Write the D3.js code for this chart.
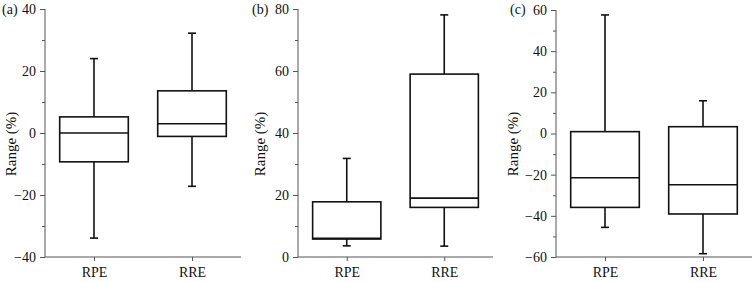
<!DOCTYPE html>
<html><head><meta charset="utf-8">
<script src="https://cdn.jsdelivr.net/npm/d3@7"></script>
<style>body{margin:0;background:#fff}svg{display:block}svg text{font-family:'Times New Roman','Liberation Serif',Times,serif !important}</style>
</head><body><svg id="c" width="753" height="282"></svg>
<script>
const categories = ["RPE", "RRE"];
const panelLabels = ["(a)", "(b)", "(c)"];
// box stats per panel: [whiskerLow, q1, median, q3, whiskerHigh]
const panelA = [[-33.9, -9.3, 0.0, 5.2, 24.0], [-17.2, -1.1, 3.0, 13.6, 32.2]];
const panelB = [[3.6, 5.8, 6.0, 17.8, 31.8], [3.5, 16.0, 19.0, 59.0, 78.1]];
const panelC = [[-45.6, -35.9, -21.5, 0.9, 57.6], [-58.4, -39.1, -24.9, 3.3, 15.9]];
const domains = [[-40, 40], [0, 80], [-60, 60]];
const majorTicks = [[-40, -20, 0, 20, 40], [0, 20, 40, 60, 80], [-60, -40, -20, 0, 20, 40, 60]];
const minorTicks = [[-30, -10, 10, 30], [10, 30, 50, 70], [-50, -30, -10, 10, 30, 50]];
const yTitle = "Range (%)";

const svg = d3.select("#c");
const panels = [
  {data: panelA, x0: 45, x1: 241, top: 9, lx: 2, tx: 11},
  {data: panelB, x0: 298, x1: 493, top: 9, lx: 252, tx: 260},
  {data: panelC, x0: 556, x1: 752, top: 10, lx: 510, tx: 513}
];
const bottom = 257;
const axisColor = "#555";

panels.forEach((p, i) => {
  const y = d3.scaleLinear().domain(domains[i]).range([bottom, p.top]);
  const x = d3.scalePoint().domain(categories).range([p.x0, p.x1]).padding(0.5);
  const bw = x.step() * 0.7;
  const g = svg.append("g");

  const ya = g.append("g").attr("transform", `translate(${p.x0},0)`)
    .call(d3.axisLeft(y).tickValues(majorTicks[i]).tickSize(5).tickPadding(4).tickFormat(d3.format("d")));
  g.append("g").attr("transform", `translate(${p.x0},0)`)
    .call(d3.axisLeft(y).tickValues(minorTicks[i]).tickSize(3).tickFormat(""))
    .call(s => s.select(".domain").remove());
  const xa = g.append("g").attr("transform", `translate(0,${bottom})`)
    .call(d3.axisBottom(x).tickSize(4).tickPadding(6).tickSizeOuter(0));
  xa.select(".domain").attr("d", `M${p.x0},0H${p.x1}`);
  g.selectAll(".domain").attr("stroke", axisColor);
  g.selectAll(".tick line").attr("stroke", axisColor);
  g.selectAll(".tick text").attr("font-size", 14).attr("fill", "#111");
  ya.select(".domain").attr("d", `M0,${bottom}V${p.top}`);

  p.data.forEach((d, j) => {
    const cx = x(categories[j]);
    const bg = g.append("g").attr("stroke", "#111").attr("stroke-width", 1.6).attr("fill", "none");
    bg.append("line").attr("x1", cx).attr("x2", cx).attr("y1", y(d[3])).attr("y2", y(d[4]));
    bg.append("line").attr("x1", cx).attr("x2", cx).attr("y1", y(d[1])).attr("y2", y(d[0]));
    bg.append("line").attr("x1", cx - 4).attr("x2", cx + 4).attr("y1", y(d[4])).attr("y2", y(d[4]));
    bg.append("line").attr("x1", cx - 4).attr("x2", cx + 4).attr("y1", y(d[0])).attr("y2", y(d[0]));
    bg.append("rect").attr("x", cx - bw / 2).attr("width", bw)
      .attr("y", y(d[3])).attr("height", y(d[1]) - y(d[3])).attr("fill", "#fff");
    bg.append("line").attr("x1", cx - bw / 2).attr("x2", cx + bw / 2).attr("y1", y(d[2])).attr("y2", y(d[2]));
  });

  g.append("text").attr("x", p.lx).attr("y", 14).attr("font-size", 14).attr("fill", "#111").text(panelLabels[i]);
  g.append("text").attr("transform", `translate(${p.tx},144) rotate(-90)`)
    .attr("text-anchor", "middle").attr("dy", "0.35em").attr("font-size", 15).attr("fill", "#111").text(yTitle);
});
</script></body></html>
